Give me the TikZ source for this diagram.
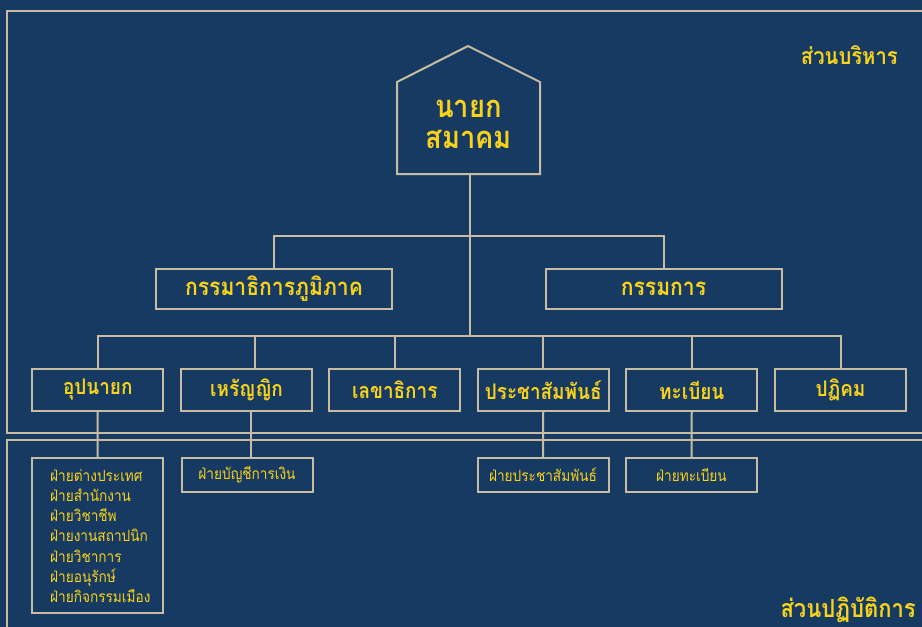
\documentclass[tikz,border=0pt]{standalone}
\usepackage{fontspec}
\setmainfont{Loma}[Script=Thai,FakeStretch=0.88]
\usetikzlibrary{calc}
\definecolor{navy}{HTML}{173A63}
\definecolor{rulecol}{HTML}{C8BCA2}
\definecolor{gold}{HTML}{F9D31A}
\begin{document}
\begin{tikzpicture}[x=1pt,y=-1pt,
  frame/.style={draw=rulecol, line width=2pt},
  link/.style={draw=rulecol, line width=2pt},
  headbox/.style={draw=rulecol, line width=2pt, text=gold, inner sep=0pt,
    font=\bfseries\fontsize{24}{26}\selectfont, minimum width=236pt, minimum height=40pt},
  rolebox/.style={draw=rulecol, line width=2pt, text=gold, inner sep=0pt,
    font=\bfseries\fontsize{21.5}{24}\selectfont, minimum width=131pt, minimum height=42pt},
  unitbox/.style={draw=rulecol, line width=2pt, text=gold, inner sep=0pt,
    font=\fontsize{15.5}{18}\selectfont, minimum width=131pt, minimum height=34pt},
  unittext/.style={text=gold, inner sep=0pt, align=left,
    font=\fontsize{15.5}{20.3}\selectfont},
  section/.style={text=gold, inner sep=0pt, font=\bfseries\fontsize{23}{26}\selectfont},
  presname/.style={text=gold, inner sep=0pt, font=\bfseries\fontsize{31}{34}\selectfont},
]
% canvas
\fill[navy] (0,0) rectangle (922,627);
\useasboundingbox (0,0) rectangle (922,627);

% the two section frames, open to the right and bottom
\draw[frame] (940,11) -- (7,11) -- (7,433) -- (940,433);
\draw[frame] (940,440) -- (7,440) -- (7,640);

\node[section, anchor=east] (exec) at (898,55) {ส่วนบริหาร};
\node[section, anchor=east, font=\bfseries\fontsize{25}{28}\selectfont] (ops) at (916,610) {ส่วนปฏิบัติการ};

% president (house shape)
\draw[frame] (397,174) -- (397,82) -- (468,46) -- (540,82) -- (540,174) -- cycle;
\node[presname, anchor=base] (pres1) at (468.5,117) {นายก};
\node[presname, anchor=base] (pres2) at (468.5,148) {สมาคม};
\coordinate (presbase) at (470,174);
\coordinate (hub2) at (470,337);

% committees
\node[headbox] (reg) at (274,289) {กรรมาธิการภูมิภาค};
\node[headbox] (com) at (663.5,289) {กรรมการ};

% officers
\node[rolebox] (b1) at (97.75,390) {อุปนายก};
\node[rolebox] (b2) at (246.5,390) {เหรัญญิก};
\node[rolebox] (b3) at (394.75,390) {เลขาธิการ};
\node[rolebox] (b4) at (543.25,390) {ประชาสัมพันธ์};
\node[rolebox] (b5) at (691.75,390) {ทะเบียน};
\node[rolebox] (b6) at (840.5,390) {ปฏิคม};

% operating units
\node[unitbox, minimum height=155pt] (u1) at (97.5,535.5) {};
\node[unittext, anchor=west] (u1t) at (50,536) {ฝ่ายต่างประเทศ\\ฝ่ายสำนักงาน\\ฝ่ายวิชาชีพ\\ฝ่ายงานสถาปนิก\\ฝ่ายวิชาการ\\ฝ่ายอนุรักษ์\\ฝ่ายกิจกรรมเมือง};
\node[unitbox] (u2) at (247,475) {ฝ่ายบัญชีการเงิน};
\node[unitbox] (u4) at (543,475) {ฝ่ายประชาสัมพันธ์};
\node[unitbox] (u5) at (691.5,475) {ฝ่ายทะเบียน};

% connectors
\draw[link] (presbase) -- (hub2);
\draw[link] (reg.north) -- ++(0,-32) -| (com.north);
\draw[link] (b1.north) -- ++(0,-32) -| (b6.north);
\draw[link] ([xshift=8pt]b2.north) -- ++(0,-32);
\draw[link] (b3.north) -- ++(0,-32);
\draw[link] (b4.north) -- ++(0,-32);
\draw[link] (b5.north) -- ++(0,-32);
\draw[link] (b1.south) -- (u1.north);
\draw[link] ([xshift=4.5pt]b2.south) -- ([xshift=4pt]u2.north);
\draw[link] (b4.south) -- (u4.north);
\draw[link] (b5.south) -- (u5.north);
\end{tikzpicture}
\end{document}
